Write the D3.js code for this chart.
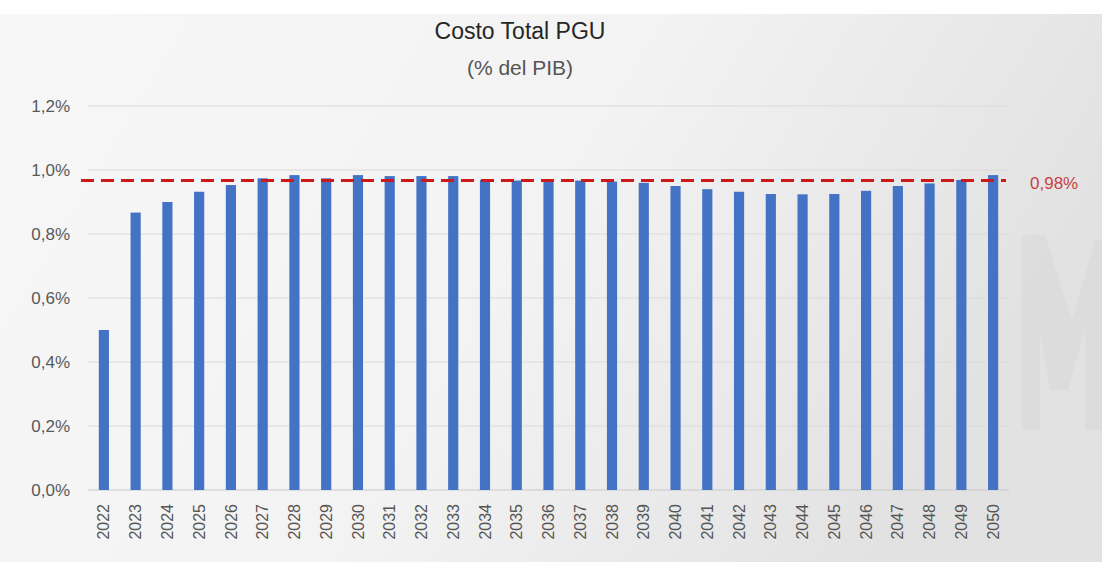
<!DOCTYPE html>
<html>
<head>
<meta charset="utf-8">
<script src="https://cdn.jsdelivr.net/npm/d3@7"></script>
<style>
  body { margin: 0; background: #fff; }
  svg { display: block; }
  text { font-family: "Liberation Sans Narrow", "Liberation Sans", Arial, sans-serif; }
</style>
</head>
<body>
<div id="chart"></div>
<script>
// data
var years = ["2022","2023","2024","2025","2026","2027","2028","2029","2030","2031",
             "2032","2033","2034","2035","2036","2037","2038","2039","2040","2041",
             "2042","2043","2044","2045","2046","2047","2048","2049","2050"];
var costo = [0.50, 0.867, 0.90, 0.932, 0.953, 0.974, 0.984, 0.974, 0.984, 0.981,
             0.981, 0.981, 0.969, 0.967, 0.967, 0.967, 0.964, 0.960, 0.950, 0.940,
             0.932, 0.925, 0.924, 0.925, 0.935, 0.950, 0.958, 0.969, 0.984];
var yTicks = [0, 0.2, 0.4, 0.6, 0.8, 1.0, 1.2];
var refValue = 0.967;
var refLabel = "0,98%";

var width = 1102, height = 562;
var margin = { top: 106, right: 93, bottom: 72, left: 88 };

var svg = d3.select("#chart")
    .append("svg")
    .attr("width", width)
    .attr("height", height);

var defs = svg.append("defs");
var grad = defs.append("linearGradient")
    .attr("id", "bg")
    .attr("x1", "0").attr("y1", "0").attr("x2", "1").attr("y2", "0.3");
grad.append("stop").attr("offset", "0").attr("stop-color", "#f7f7f7");
grad.append("stop").attr("offset", "0.55").attr("stop-color", "#f3f3f3");
grad.append("stop").attr("offset", "1").attr("stop-color", "#e2e2e2");

svg.append("rect")
    .attr("x", 0).attr("y", 14)
    .attr("width", width).attr("height", height - 14)
    .attr("fill", "url(#bg)");

// faint watermark on the right
svg.append("path")
    .attr("d", "M1022,235 L1045,235 L1072,320 L1095,240 L1102,240 L1102,430 L1085,430 L1085,330 L1068,390 L1050,390 L1040,330 L1040,430 L1022,430 Z")
    .attr("fill", "#d9d9d9")
    .attr("opacity", 0.6);

var x = d3.scaleBand()
    .domain(years)
    .range([margin.left, width - margin.right])
    .paddingInner(0.68)
    .paddingOuter(0.34);

var y = d3.scaleLinear()
    .domain([0, 1.2])
    .range([height - margin.bottom, margin.top]);

// gridlines
svg.append("g")
    .selectAll("line")
    .data(yTicks)
    .enter()
    .append("line")
    .attr("x1", margin.left)
    .attr("x2", width - margin.right)
    .attr("y1", function (d) { return y(d); })
    .attr("y2", function (d) { return y(d); })
    .attr("stroke", function (d) { return d === 0 ? "#c8c8c8" : "#dadada"; })
    .attr("stroke-width", 1);

// y labels
svg.append("g")
    .selectAll("text")
    .data(yTicks)
    .enter()
    .append("text")
    .attr("x", 70)
    .attr("y", function (d) { return y(d); })
    .attr("dy", "0.35em")
    .attr("text-anchor", "end")
    .attr("font-size", 17)
    .attr("fill", "#595959")
    .text(function (d) { return d.toFixed(1).replace(".", ",") + "%"; });

// bars
svg.append("g")
    .selectAll("rect")
    .data(costo)
    .enter()
    .append("rect")
    .attr("x", function (d, i) { return x(years[i]); })
    .attr("y", function (d) { return y(d); })
    .attr("width", x.bandwidth())
    .attr("height", function (d) { return y(0) - y(d); })
    .attr("fill", "#4472c4");

// x labels, rotated
svg.append("g")
    .selectAll("text")
    .data(years)
    .enter()
    .append("text")
    .attr("transform", function (d) {
        return "translate(" + (x(d) + x.bandwidth() / 2) + "," + (y(0) + 14) + ") rotate(-90)";
    })
    .attr("dy", "0.35em")
    .attr("text-anchor", "end")
    .attr("font-size", 16)
    .attr("fill", "#555")
    .text(function (d) { return d; });

// reference line
svg.append("line")
    .attr("x1", 81)
    .attr("x2", 1006)
    .attr("y1", y(refValue))
    .attr("y2", y(refValue))
    .attr("stroke", "#cc1a1a")
    .attr("stroke-width", 3)
    .attr("stroke-dasharray", "13,7");

svg.append("text")
    .attr("x", 1030)
    .attr("y", y(refValue) + 2)
    .attr("dy", "0.35em")
    .attr("font-size", 17)
    .attr("fill", "#c94040")
    .text(refLabel);

// title
svg.append("text")
    .attr("x", 520)
    .attr("y", 39)
    .attr("text-anchor", "middle")
    .attr("font-size", 23)
    .attr("fill", "#262626")
    .text("Costo Total PGU");

svg.append("text")
    .attr("x", 520)
    .attr("y", 75)
    .attr("text-anchor", "middle")
    .attr("font-size", 21)
    .attr("fill", "#555")
    .text("(% del PIB)");
</script>
</body>
</html>
